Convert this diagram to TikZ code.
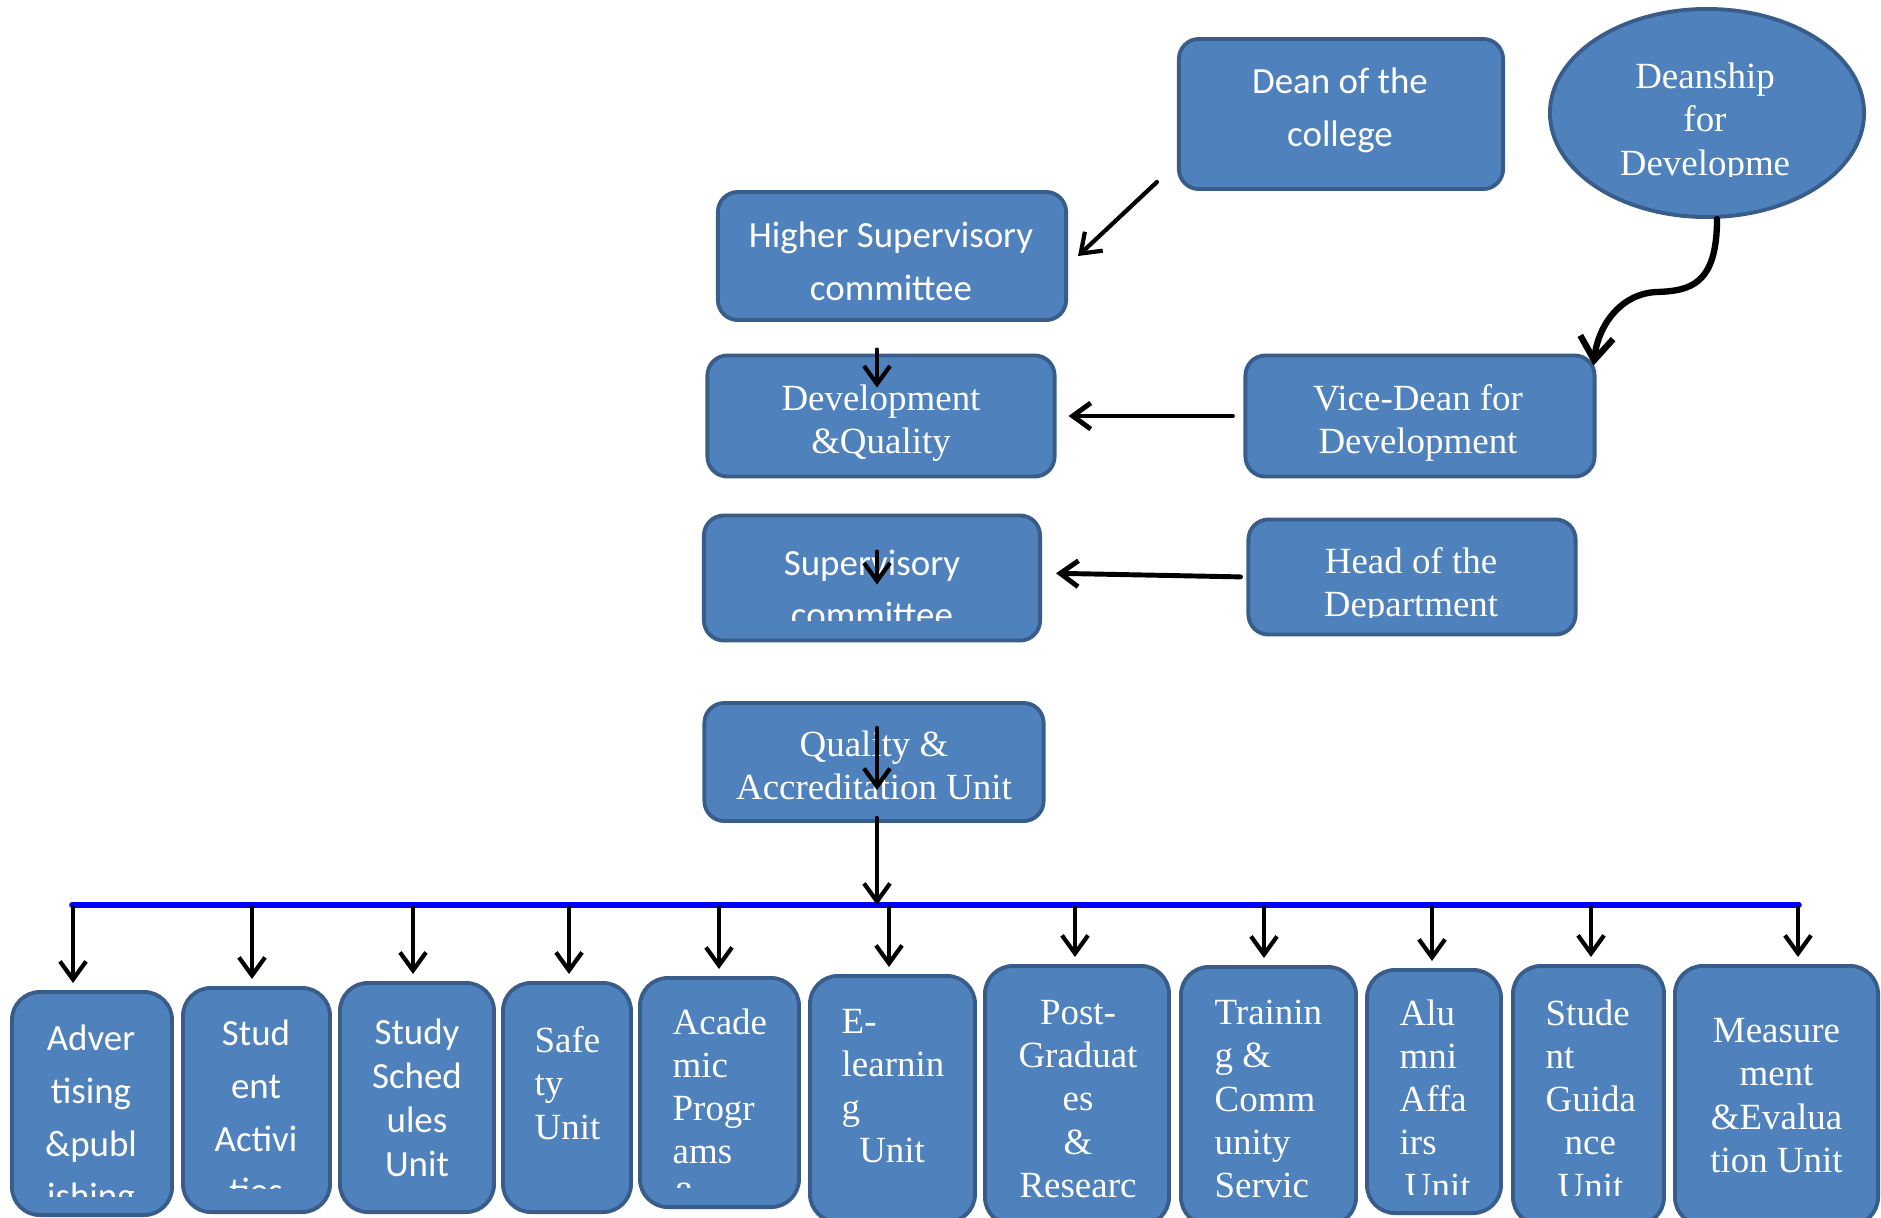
\documentclass[tikz,border=0pt]{standalone}
\usepackage{fontspec}
\setmainfont{Liberation Serif}
\newfontfamily\calfont{Carlito}
\usetikzlibrary{arrows.meta,shapes.geometric}
\definecolor{boxfill}{RGB}{79,129,189}
\definecolor{boxline}{RGB}{56,93,138}
\tikzset{
  every picture/.style={line join=round, line cap=round},
  unit/.style={draw=boxline, fill=boxfill, line width=1.1pt, rounded corners=0.2cm, inner sep=0pt, text=white, align=center},
  unitbox/.style={rounded corners=0.28cm},
  oval/.style={draw=boxline, fill=boxfill, line width=1.1pt, ellipse, inner sep=0pt},
  serif/.style={font=\fontsize{10.5}{12.3}\selectfont},
  sans/.style={font=\calfont\fontsize{10.5}{15}\selectfont},
  sanstight/.style={font=\calfont\fontsize{10.5}{12.5}\selectfont},
  lbl/.style={text=white, inner sep=0pt},
  arr/.style={-{Straight Barb[length=1.8mm,width=2.6mm]}, line width=1.2pt},
  bus/.style={blue, line width=1.6pt},
}

\begin{document}
\begin{tikzpicture}[x=0.01cm,y=-0.01cm]
\useasboundingbox (0,0) rectangle (1881,1217);
% upper part
\node[unit,minimum width=3.24cm,minimum height=1.5cm] (dean) at (1341,114) {};
\node[lbl,sans,align=center] (dean-t) at (1340,110) {Dean of the\\college};
\node[oval,minimum width=3.14cm,minimum height=2.08cm] (deanship) at (1707,113) {};
\begin{scope}
\clip (1560,40) rectangle (1855,176);
\node[lbl,serif,align=center] (deanship-t) at (1705,123) {Deanship\\for\\Developme};
\end{scope}
\node[unit,minimum width=3.48cm,minimum height=1.28cm] (higher) at (892,256) {};
\node[lbl,sans,align=center] (higher-t) at (891,261) {Higher Supervisory\\committee};
\node[unit,minimum width=3.47cm,minimum height=1.21cm] (devq) at (881,416) {};
\node[lbl,serif,align=center] (devq-t) at (881,423) {Development\\\&Quality};
\node[unit,minimum width=3.49cm,minimum height=1.21cm] (vicedean) at (1420,416) {};
\node[lbl,serif,align=center] (vicedean-t) at (1418,423) {Vice-Dean for\\Development};
\node[unit,minimum width=3.36cm,minimum height=1.25cm] (superv) at (872,578) {};
\begin{scope}
\clip (712,520) rectangle (1032,620);
\node[lbl,sans,align=center] (superv-t) at (872,589) {Supervisory\\committee};
\end{scope}
\node[unit,minimum width=3.27cm,minimum height=1.15cm] (head) at (1412,577) {};
\begin{scope}
\clip (1256,525) rectangle (1568,617);
\node[lbl,serif,align=center] (head-t) at (1411,586) {Head of the\\Department};
\end{scope}
\node[unit,minimum width=3.39cm,minimum height=1.18cm] (qau) at (874,762) {};
\node[lbl,serif,align=center] (qau-t) at (874,765) {Quality \&\\Accreditation Unit};

% units in the lower row
\node[unit,unitbox,minimum width=1.6cm,minimum height=2.23cm] (advert) at (92,1103.5) {};
\begin{scope}
\clip (20,990) rectangle (165,1196);
\node[lbl,sans,align=center] (advert-t) at (91,1120) {Adver\\tising\\\&publ\\ishing};
\end{scope}
\node[unit,unitbox,minimum width=1.47cm,minimum height=2.24cm] (stuact) at (256.5,1100) {};
\begin{scope}
\clip (190,990) rectangle (325,1188);
\node[lbl,sans,align=center] (stuact-t) at (256,1112) {Stud\\ent\\Activi\\ties};
\end{scope}
\node[unit,unitbox,sanstight,minimum width=1.54cm,minimum height=2.29cm] (sched) at (417,1097.5) {Study\\Sched\\ules\\Unit};
\node[unit,unitbox,minimum width=1.28cm,minimum height=2.29cm] (safety) at (567,1097.5) {};
\node[lbl,serif,align=left,anchor=west] (safety-t) at (534,1083) {Safe\\ty\\Unit};
\node[unit,unitbox,minimum width=1.59cm,minimum height=2.29cm] (acad) at (719.5,1092.5) {};
\begin{scope}
\clip (648,980) rectangle (792,1187);
\node[lbl,serif,align=left,anchor=west] (acad-t) at (672,1108) {Acade\\mic\\Progr\\ams\\\&};
\end{scope}
\node[unit,unitbox,minimum width=1.65cm,minimum height=2.46cm] (elearn) at (892.5,1099) {};
\node[lbl,serif,align=left,anchor=west] (elearn-t) at (841,1086) {E-\\learnin\\g\\\hspace*{5pt}Unit};
\node[unit,unitbox,minimum width=1.84cm,minimum height=2.59cm] (postgrad) at (1077,1095.5) {};
\node[lbl,serif,align=center] (postgrad-t) at (1078,1099) {Post-\\Graduat\\es\\\&\\Researc};
\node[unit,unitbox,minimum width=1.75cm,minimum height=2.58cm] (training) at (1268.5,1096) {};
\node[lbl,serif,align=left,anchor=west] (training-t) at (1214,1099) {Trainin\\g \&\\Comm\\unity\\Servic};
\node[unit,unitbox,minimum width=1.34cm,minimum height=2.43cm] (alumni) at (1434,1091.5) {};
\begin{scope}
\clip (1372,975) rectangle (1496,1194);
\node[lbl,serif,align=left,anchor=west] (alumni-t) at (1399,1099) {Alu\\mni\\Affa\\irs\\\hspace*{1.5pt}Unit};
\end{scope}
\node[unit,unitbox,minimum width=1.51cm,minimum height=2.59cm] (guidance) at (1588.5,1095.5) {};
\begin{scope}
\clip (1518,970) rectangle (1660,1195);
\node[lbl,serif,align=left,anchor=west] (guidance-t) at (1545,1099) {Stude\\nt\\Guida\\\hspace*{5.4pt}nce\\\hspace*{3.4pt}Unit};
\end{scope}
\node[unit,unitbox,serif,minimum width=2.03cm,minimum height=2.59cm] (measure) at (1776.5,1095.5) {Measure\\ment\\\&Evalua\\tion Unit};

% arrows
\draw[arr] ([shift={(-20,-9)}]dean.south west) -- ([xshift=0.1cm]higher.east);
\draw[arr,line width=1.8pt,-{Straight Barb[length=2.3mm,width=3.3mm]}] ([xshift=0.1cm]deanship.south)
  .. controls (1717,285) and (1690,291) .. (1656,292)
  .. controls (1620,294) and (1598,326) .. ([shift={(-3,12)}]vicedean.north east);
\draw[arr,line width=1.4pt,shorten <=0.11cm,shorten >=0.12cm] (vicedean.west) -- (devq.east);
\draw[arr,line width=1.4pt,shorten <=0.06cm,shorten >=0.14cm] (head.west) -- ([yshift=0.05cm]superv.east);
\draw[arr] ([shift={(-4,-4)}]devq.north) -- ++(0,38);
\draw[arr] ([shift={(5,38)}]superv.north) -- ++(0,33);
\draw[arr] ([shift={(3,27)}]qau.north) -- ++(0,62);

% the blue line and the units below it
\foreach \x [count=\i] in {73,252,413,569,719,889,1075,1264,1432,1591,1798}
  \coordinate (b\i) at (\x,905);
\coordinate (bq) at (877,905);
\draw[bus] ([xshift=-0.01cm]b1) -- ([xshift=0.01cm]b11);
\draw[arr] ([shift={(3,-5)}]qau.south) -- (bq);
\foreach \i/\n in {1/advert,2/stuact,3/sched,4/safety,5/acad,6/elearn,7/postgrad,8/training,9/alumni,10/guidance,11/measure}
  \draw[arr,shorten >=0.07cm] ([yshift=-0.02cm]b\i) -- (b\i |- \n.north);
\end{tikzpicture}
\end{document}
